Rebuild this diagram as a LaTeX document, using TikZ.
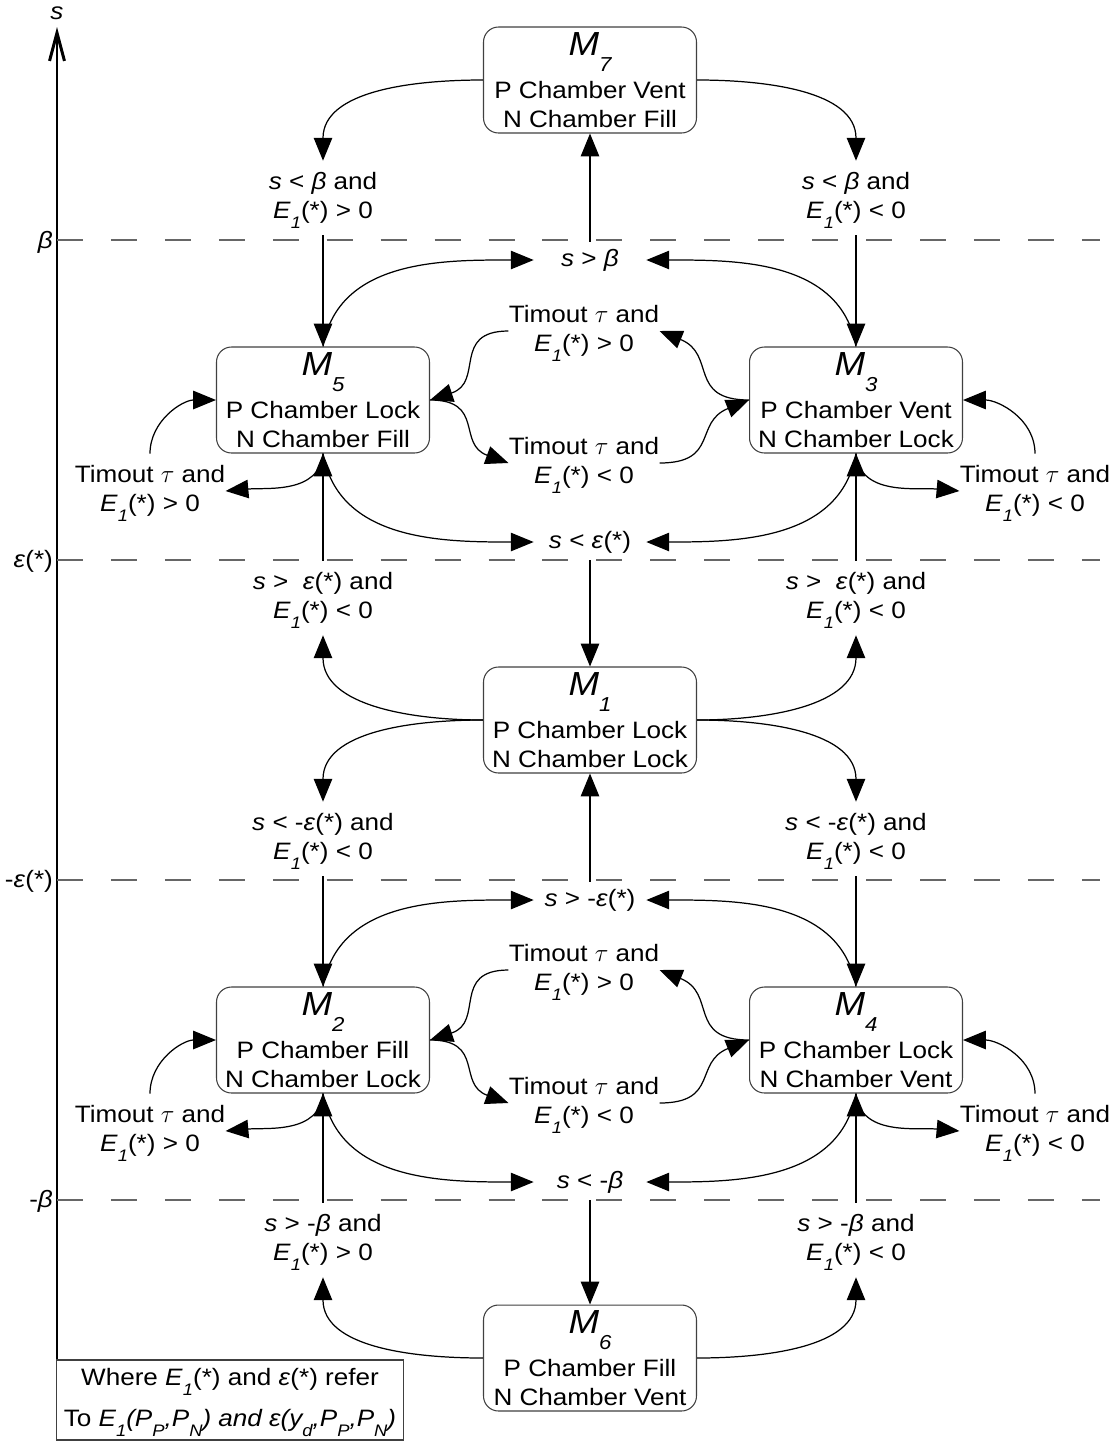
\documentclass[tikz,border=0pt]{standalone}
\usepackage{fontspec}
\setmainfont[FakeStretch=1.1]{Liberation Sans}
\usetikzlibrary{arrows.meta}
\definecolor{dashgray}{gray}{0.4}

\newcommand{\lowsub}[2][5.5pt]{\smash{\raisebox{-#1}{\fontsize{9.5}{9.5}\selectfont\itshape #2}}}
\newcommand{\Eo}{\textit{E}\lowsub{1}}
\newcommand{\mstate}[1]{{\fontsize{19}{19}\selectfont\itshape M}\smash{\raisebox{-9pt}{\fontsize{11.5}{11.5}\selectfont\itshape #1}}}

\tikzset{
  modebox/.style={draw=black!75, line width=0.6pt, rounded corners=8.5pt, fill=white,
    minimum width=4.26cm, minimum height=2.12cm, inner sep=0pt, align=center},
  cond/.style={align=center, inner xsep=0pt, inner ysep=6.5pt},
  guard/.style={cond, inner ysep=4pt, minimum width=2.24cm},
  tmo/.style={cond, minimum width=3cm},
  link/.style={line width=0.7pt, -{Triangle[length=13pt,width=10.5pt]}},
  sline/.style={dashgray, line width=0.6pt, dash pattern=on 14.8pt off 15.9pt},
}

\begin{document}
\begin{tikzpicture}[x=0.02cm, y=-0.02cm, font=\fontsize{13.5}{16.5}\selectfont]
    \useasboundingbox (0,0) rectangle (1118,1441);

    % axis
    \coordinate (axbot) at (57,1441);
    \coordinate (axtop) at (57,27);
    \draw[line width=0.8pt, -{Straight Barb[length=16pt,width=8.5pt,line width=1.7pt]}] (axbot) -- (axtop);
    \node (sax) at (57,13) {\textit{s}};

    % switching levels
    \draw[sline] (57,240) -- (1100,240);
    \draw[sline] (57,560) -- (1100,560);
    \draw[sline] (57,880) -- (1100,880);
    \draw[sline] (57,1200) -- (1100,1200);
    \node[anchor=east, inner sep=1pt] (lvb) at (55,242) {\textit{β}};
    \node[anchor=east, inner sep=1pt] (lve) at (55,561) {\textit{ε}(*)};
    \node[anchor=east, inner sep=1pt] (lvne) at (55,881) {-\textit{ε}(*)};
    \node[anchor=east, inner sep=1pt] (lvnb) at (55,1201) {-\textit{β}};

    % modes
    \node[modebox] (m7) at (590,80) {\mstate{7}\\[8pt]P Chamber Vent\\N Chamber Fill};
    \node[modebox] (m5) at (323,400) {\mstate{5}\\[8pt]P Chamber Lock\\N Chamber Fill};
    \node[modebox] (m3) at (856,400) {\mstate{3}\\[8pt]P Chamber Vent\\N Chamber Lock};
    \node[modebox] (m1) at (590,720) {\mstate{1}\\[8pt]P Chamber Lock\\N Chamber Lock};
    \node[modebox] (m2) at (323,1040) {\mstate{2}\\[8pt]P Chamber Fill\\N Chamber Lock};
    \node[modebox] (m4) at (856,1040) {\mstate{4}\\[8pt]P Chamber Lock\\N Chamber Vent};
    \node[modebox] (m6) at (590,1358) {\mstate{6}\\[8pt]P Chamber Fill\\N Chamber Vent};

    % conditions, upper half
    \node[cond] (c7l) at (323,198) {\textit{s} < \textit{β} and\\\Eo(*) > 0};
    \node[cond] (c7r) at (856,198) {\textit{s} < \textit{β} and\\\Eo(*) < 0};
    \node[guard] (gb) at (590,260) {\textit{s} > \textit{β}};
    \node[tmo] (t53) at (584,331) {Timout $\tau$ and\\\Eo(*) > 0};
    \node[tmo] (t35) at (584,463) {Timout $\tau$ and\\\Eo(*) < 0};
    \node[cond] (t5l) at (150,491) {Timout $\tau$ and\\\Eo(*) > 0};
    \node[cond] (t3r) at (1035,491) {Timout $\tau$ and\\\Eo(*) < 0};
    \node[guard] (ge) at (590,542) {\textit{s} < \textit{ε}(*)};
    \node[cond] (c15) at (323,598) {\textit{s} > \ \textit{ε}(*) and\\\Eo(*) < 0};
    \node[cond] (c13) at (856,598) {\textit{s} > \ \textit{ε}(*) and\\\Eo(*) < 0};

    % conditions, lower half
    \node[cond] (c12) at (323,839) {\textit{s} < -\textit{ε}(*) and\\\Eo(*) < 0};
    \node[cond] (c14) at (856,839) {\textit{s} < -\textit{ε}(*) and\\\Eo(*) < 0};
    \node[guard] (gne) at (590,900) {\textit{s} > -\textit{ε}(*)};
    \node[tmo] (t24) at (584,970) {Timout $\tau$ and\\\Eo(*) > 0};
    \node[tmo] (t42) at (584,1103) {Timout $\tau$ and\\\Eo(*) < 0};
    \node[cond] (t2l) at (150,1131) {Timout $\tau$ and\\\Eo(*) > 0};
    \node[cond] (t4r) at (1035,1131) {Timout $\tau$ and\\\Eo(*) < 0};
    \node[guard] (gnb) at (590,1182) {\textit{s} < -\textit{β}};
    \node[cond] (c62) at (323,1240) {\textit{s} > -\textit{β} and\\\Eo(*) > 0};
    \node[cond] (c64) at (856,1240) {\textit{s} > -\textit{β} and\\\Eo(*) < 0};

    % note
    \node[draw=black!75, line width=0.6pt, fill=white, minimum width=6.94cm, minimum height=1.6cm,
      inner sep=0pt, align=center] (note) at (230,1400)
      {Where \Eo(*) and \textit{ε}(*) refer\\[7pt]To \textit{E\lowsub{1}(P\lowsub{P},P\lowsub{N}) and ε(y\lowsub{d},P\lowsub{P},P\lowsub{N})}};

    % transitions around M7
    \draw[link] (m7.west) to[out=180,in=90] (c7l.north);
    \draw[link] (m7.east) to[out=0,in=90] (c7r.north);
    \draw[link] (c7l.south) -- (m5.north);
    \draw[link] (c7r.south) -- (m3.north);
    \draw[link] (gb.north) -- (m7.south);
    \draw[link] (m5.north) to[out=80,in=180] (gb.west);
    \draw[link] (m3.north) to[out=100,in=0] (gb.east);

    % transitions M5 / M3
    \draw[link] (t53.west) to[out=180,in=18,looseness=1.4] (m5.east);
    \draw[link] (m5.east) to[out=0,in=160,looseness=1.4] (t35.west);
    \draw[link] (m3.west) to[out=180,in=-22,looseness=1.4] (t53.east);
    \draw[link] (t35.east) to[out=0,in=202,looseness=1.4] (m3.west);
    \draw[link] (t5l.north) to[out=90,in=180] (m5.west);
    \draw[link] (m5.south) to[out=-95,in=5] (t5l.east);
    \draw[link] (t3r.north) to[out=90,in=0] (m3.east);
    \draw[link] (m3.south) to[out=-85,in=175] (t3r.west);
    \draw[link] (m5.south) to[out=-80,in=180] (ge.west);
    \draw[link] (m3.south) to[out=-100,in=0] (ge.east);
    \draw[link] (c15.north) -- (m5.south);
    \draw[link] (c13.north) -- (m3.south);
    \draw[link] (ge.south) -- (m1.north);

    % transitions around M1
    \draw[link] (m1.west) to[out=180,in=-90] (c15.south);
    \draw[link] (m1.east) to[out=0,in=-90] (c13.south);
    \draw[link] (m1.west) to[out=180,in=90] (c12.north);
    \draw[link] (m1.east) to[out=0,in=90] (c14.north);
    \draw[link] (gne.north) -- (m1.south);
    \draw[link] (c12.south) -- (m2.north);
    \draw[link] (c14.south) -- (m4.north);
    \draw[link] (m2.north) to[out=80,in=180] (gne.west);
    \draw[link] (m4.north) to[out=100,in=0] (gne.east);

    % transitions M2 / M4
    \draw[link] (t24.west) to[out=180,in=18,looseness=1.4] (m2.east);
    \draw[link] (m2.east) to[out=0,in=160,looseness=1.4] (t42.west);
    \draw[link] (m4.west) to[out=180,in=-22,looseness=1.4] (t24.east);
    \draw[link] (t42.east) to[out=0,in=202,looseness=1.4] (m4.west);
    \draw[link] (t2l.north) to[out=90,in=180] (m2.west);
    \draw[link] (m2.south) to[out=-95,in=5] (t2l.east);
    \draw[link] (t4r.north) to[out=90,in=0] (m4.east);
    \draw[link] (m4.south) to[out=-85,in=175] (t4r.west);
    \draw[link] (m2.south) to[out=-80,in=180] (gnb.west);
    \draw[link] (m4.south) to[out=-100,in=0] (gnb.east);
    \draw[link] (c62.north) -- (m2.south);
    \draw[link] (c64.north) -- (m4.south);
    \draw[link] (gnb.south) -- (m6.north);

    % transitions around M6
    \draw[link] (m6.west) to[out=180,in=-90] (c62.south);
    \draw[link] (m6.east) to[out=0,in=-90] (c64.south);

\end{tikzpicture}
\end{document}
